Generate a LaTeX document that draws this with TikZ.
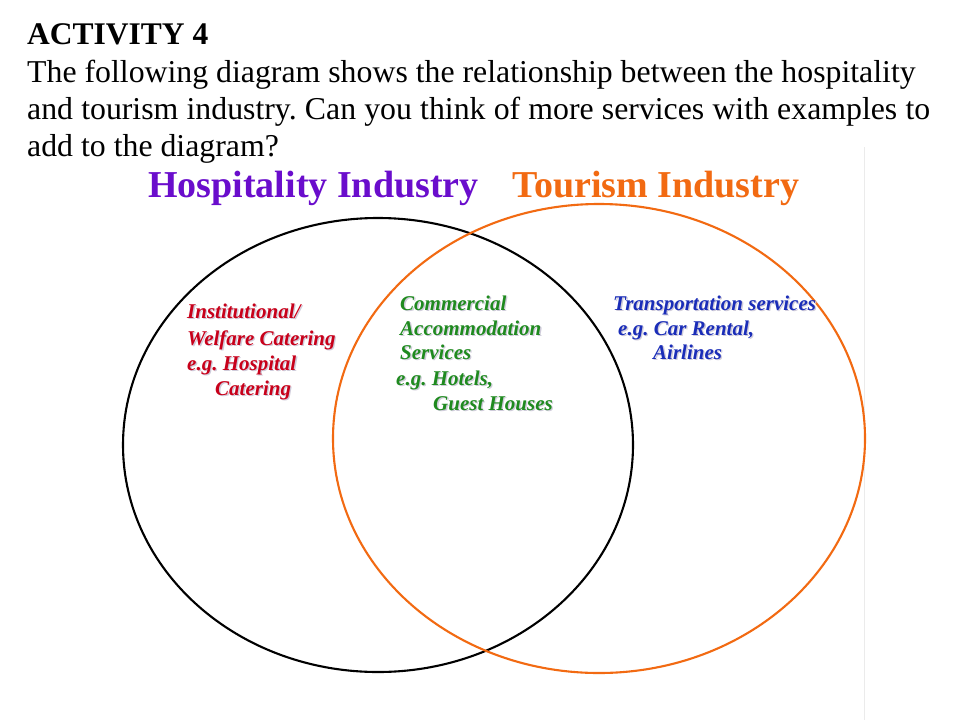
\documentclass[tikz,border=0pt]{standalone}
\usepackage{fontspec}
\setmainfont{Liberation Serif}
\definecolor{hospurple}{HTML}{6A0DCC}
\definecolor{tourorange}{HTML}{F26A12}
\definecolor{labred}{HTML}{C8001A}
\definecolor{labgreen}{HTML}{1F8A1F}
\definecolor{labblue}{HTML}{1A2DB8}
\definecolor{edgegray}{HTML}{EBEBEB}
\definecolor{shadowgray}{HTML}{CFCBDA}
\newcommand{\shadowtxt}[2][2pt]{\leavevmode\rlap{\hspace{#1}\raisebox{-#1}{\color{shadowgray}#2}}#2}
\tikzset{
  bodytext/.style={anchor=base west, inner sep=0pt, font=\fontsize{31.8}{38}\selectfont\frenchspacing},
  titletext/.style={anchor=base west, inner sep=0pt, font=\fontsize{38}{44}\selectfont\bfseries},
  labtext/.style={anchor=base west, inner sep=0pt, font=\fontsize{21}{25}\selectfont\bfseries\itshape\frenchspacing},
  setline/.style={line width=2.1pt},
}
\begin{document}
\begin{tikzpicture}[x=1pt,y=-1pt]
\useasboundingbox[fill=white] (0,0) rectangle (960,720);
% faint edge line
\draw[edgegray, line width=0.8pt] (864,147) coordinate (e1) -- (864,720) coordinate (e2);
% heading text
\node[bodytext, font=\fontsize{31.5}{37}\selectfont\bfseries] (act) at (27,44) {ACTIVITY 4};
\node[bodytext] (l1) at (27,82) {The following diagram shows the relationship between the hospitality};
\node[bodytext] (l2) at (27,119) {\makebox[903pt][s]{and tourism industry. Can you think of more services with examples to}};
\node[bodytext] (l3) at (27,156) {add to the diagram?};
% titles
\node[titletext, text=hospurple] (hosp) at (148,197) {Hospitality Industry};
\node[titletext, text=tourorange] (tour) at (512,197) {Tourism Industry};
% sets
\draw[setline, black] (378,445) ellipse [x radius=255pt, y radius=227pt];
\draw[setline, tourorange] (599,438.5) ellipse [x radius=266pt, y radius=234.5pt];
% red block
\node[labtext, text=labred] (r1) at (187,318) {\shadowtxt[1.3pt]{Institutional/}};
\node[labtext, text=labred] (r2) at (187,345) {\shadowtxt[1.3pt]{Welfare Catering}};
\node[labtext, text=labred] (r3) at (187,370) {\shadowtxt[1.3pt]{e.g. Hospital}};
\node[labtext, text=labred] (r4) at (215,395) {\shadowtxt[1.3pt]{Catering}};
% green block
\node[labtext, text=labgreen] (g1) at (400,310) {\shadowtxt[1.3pt]{Commercial}};
\node[labtext, text=labgreen] (g2) at (400,335) {\shadowtxt[1.3pt]{Accommodation}};
\node[labtext, text=labgreen] (g3) at (400,359) {\shadowtxt[1.3pt]{Services}};
\node[labtext, text=labgreen] (g4) at (396,385) {\shadowtxt[1.3pt]{e.g. Hotels,}};
\node[labtext, text=labgreen] (g5) at (433,410) {\shadowtxt[1.3pt]{Guest Houses}};
% blue block
\node[labtext, text=labblue] (b1) at (613,310) {\shadowtxt[1.3pt]{Transportation services}};
\node[labtext, text=labblue] (b2) at (618,335) {\shadowtxt[1.3pt]{e.g. Car Rental,}};
\node[labtext, text=labblue] (b3) at (653,359) {\shadowtxt[1.3pt]{Airlines}};
\end{tikzpicture}
\end{document}
